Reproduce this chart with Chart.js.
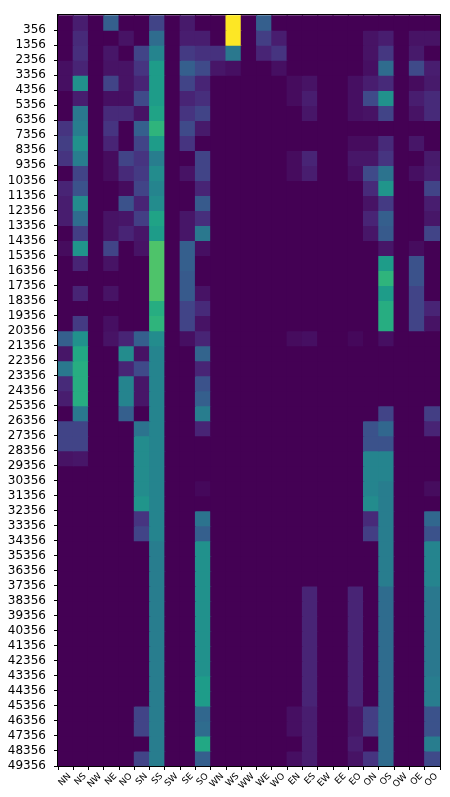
<!DOCTYPE html>
<html>
<head>
<meta charset="utf-8">
<script src="https://cdn.jsdelivr.net/npm/chart.js@4.4.1/dist/chart.umd.min.js"></script>
<style>
html,body{margin:0;padding:0;background:#fff;}
#wrap{width:450px;height:797px;position:relative;}
</style>
</head>
<body>
<div id="wrap"><canvas id="c" width="450" height="797"></canvas></div>
<script>
// ---- data ----
const colLabels = ['NN','NS','NW','NE','NO','SN','SS','SW','SE','SO','WN','WS','WW','WE','WO','EN','ES','EW','EE','EO','ON','OS','OW','OE','OO'];
const rowLabels = [];
for (let v = 356; v <= 49356; v += 1000) rowLabels.push(String(v));

// one row per y label (top to bottom), one value per column
const cellValues = [
  [0,.08,0,.30,0,0,.20,0,.07,0, 0,1,0,.30,0, 0,0,0,0,0, 0,0,0,0,0],
  [0,.12,0,0,.05,0,.35,0,.08,.08, 0,1,0,.18,.08, 0,0,0,0,0, .05,.08,0,.05,.05],
  [0,.13,0,.06,0,.20,.45,0,.17,.14, .14,.40,0,.10,.15, 0,0,0,0,0, .05,.16,0,.07,0],
  [.04,.10,0,.05,.05,.15,.55,0,.30,.22, .06,.04,0,0,.04, 0,0,0,0,0, .04,.35,0,.22,.08],
  [.04,.50,0,.20,.05,.10,.55,0,.20,.10, 0,0,0,0,0, .03,.05,0,0,.04, .08,.12,0,.03,.07],
  [0,.08,0,.04,.04,.22,.55,0,.10,.13, 0,0,0,0,0, .03,.08,0,0,.04, .22,.50,0,.08,.12],
  [0,.40,0,.12,.12,.05,.58,0,.15,.20, 0,0,0,0,0, 0,.06,0,0,.04, .05,.20,0,.05,.12],
  [.15,.42,0,.15,0,.30,.65,0,.22,.07, 0,0,0,0,0, 0,0,0,0,0, 0,0,0,0,0],
  [.18,.50,0,.10,0,.20,.55,0,.15,0, 0,0,0,0,0, 0,0,0,0,.03, .03,.12,0,.06,0],
  [.15,.42,0,.03,.20,.15,.42,0,0,.20, 0,0,0,0,0, .03,.10,0,0,.06, .06,.15,0,0,.07],
  [0,.20,0,.03,.12,.17,.48,0,.05,.20, 0,0,0,0,0, .03,.08,0,0,.04, .22,.38,0,.04,.08],
  [.10,.25,0,0,.03,.20,.45,0,0,.10, 0,0,0,0,0, 0,0,0,0,0, .12,.52,0,0,.20],
  [.08,.48,0,0,.25,.10,.48,0,0,.28, 0,0,0,0,0, 0,0,0,0,0, .05,.17,0,0,.08],
  [.08,.35,0,.05,.06,.18,.58,0,.06,.13, 0,0,0,0,0, 0,0,0,0,0, .10,.30,0,0,.06],
  [0,.18,0,.05,.10,.06,.55,0,.06,.40, 0,0,0,0,0, 0,0,0,0,0, .06,.28,0,0,.20],
  [.03,.52,0,.20,0,.05,.72,0,.30,.04, 0,0,0,0,0, 0,0,0,0,0, 0,.06,0,.03,0],
  [0,.10,0,.05,0,0,.72,0,.30,0, 0,0,0,0,0, 0,0,0,0,0, 0,.55,0,.25,0],
  [0,0,0,0,0,0,.72,0,.28,0, 0,0,0,0,0, 0,0,0,0,0, 0,.65,0,.25,0],
  [0,.10,0,.05,0,0,.72,0,.28,.05, 0,0,0,0,0, 0,0,0,0,0, 0,.55,0,.20,0],
  [0,0,0,0,0,0,.62,0,.20,.12, 0,0,0,0,0, 0,0,0,0,0, 0,.62,0,.20,.10],
  [0,.17,0,.04,0,0,.65,0,.20,.05, 0,0,0,0,0, 0,0,0,0,0, 0,.62,0,.20,.05],
  [.30,.50,0,.05,.10,.30,.48,0,.04,.10, 0,0,0,0,0, .03,.04,0,0,.02, 0,.04,0,0,0],
  [.06,.60,0,0,.48,.05,.45,0,0,.32, 0,0,0,0,0, 0,0,0,0,0, 0,0,0,0,0],
  [.40,.62,0,0,.10,.22,.45,0,0,.10, 0,0,0,0,0, 0,0,0,0,0, 0,0,0,0,0],
  [.12,.62,0,0,.45,.06,.45,0,0,.25, 0,0,0,0,0, 0,0,0,0,0, 0,0,0,0,0],
  [.08,.62,0,0,.45,.06,.45,0,0,.30, 0,0,0,0,0, 0,0,0,0,0, 0,0,0,0,0],
  [0,.40,0,0,.30,0,.45,0,0,.42, 0,0,0,0,0, 0,0,0,0,0, 0,.20,0,0,.18],
  [.20,.20,0,0,0,.38,.45,0,0,.10, 0,0,0,0,0, 0,0,0,0,0, .25,.33,0,0,.10],
  [.20,.20,0,0,0,.48,.45,0,0,0, 0,0,0,0,0, 0,0,0,0,0, .25,.25,0,0,0],
  [.05,.06,0,0,0,.48,.45,0,0,0, 0,0,0,0,0, 0,0,0,0,0, .45,.45,0,0,0],
  [0,0,0,0,0,.48,.45,0,0,0, 0,0,0,0,0, 0,0,0,0,0, .45,.45,0,0,0],
  [0,0,0,0,0,.48,.45,0,0,.02, 0,0,0,0,0, 0,0,0,0,0, .45,.42,0,0,.03],
  [0,0,0,0,0,.52,.45,0,0,0, 0,0,0,0,0, 0,0,0,0,0, .48,.42,0,0,0],
  [0,0,0,0,0,.15,.45,0,0,.38, 0,0,0,0,0, 0,0,0,0,0, .12,.42,0,0,.33],
  [0,0,0,0,0,.20,.45,0,0,.30, 0,0,0,0,0, 0,0,0,0,0, .18,.42,0,0,.25],
  [0,0,0,0,0,0,.42,0,0,.50, 0,0,0,0,0, 0,0,0,0,0, 0,.42,0,0,.45],
  [0,0,0,0,0,0,.42,0,0,.50, 0,0,0,0,0, 0,0,0,0,0, 0,.42,0,0,.45],
  [0,0,0,0,0,0,.42,0,0,.50, 0,0,0,0,0, 0,0,0,0,0, 0,.42,0,0,.45],
  [0,0,0,0,0,0,.42,0,0,.50, 0,0,0,0,0, 0,.10,0,0,.10, 0,.35,0,0,.40],
  [0,0,0,0,0,0,.42,0,0,.50, 0,0,0,0,0, 0,.10,0,0,.10, 0,.35,0,0,.40],
  [0,0,0,0,0,0,.42,0,0,.50, 0,0,0,0,0, 0,.10,0,0,.10, 0,.35,0,0,.40],
  [0,0,0,0,0,0,.42,0,0,.50, 0,0,0,0,0, 0,.10,0,0,.10, 0,.35,0,0,.40],
  [0,0,0,0,0,0,.42,0,0,.50, 0,0,0,0,0, 0,.10,0,0,.10, 0,.35,0,0,.40],
  [0,0,0,0,0,0,.42,0,0,.50, 0,0,0,0,0, 0,.10,0,0,.10, 0,.35,0,0,.40],
  [0,0,0,0,0,0,.42,0,0,.55, 0,0,0,0,0, 0,.10,0,0,.10, 0,.35,0,0,.42],
  [0,0,0,0,0,0,.42,0,0,.55, 0,0,0,0,0, 0,.10,0,0,.10, 0,.35,0,0,.42],
  [0,0,0,0,0,.20,.42,0,0,.33, 0,0,0,0,0, .04,.08,0,0,.06, .18,.35,0,0,.25],
  [0,0,0,0,0,.20,.42,0,0,.35, 0,0,0,0,0, .04,.08,0,0,.06, .18,.35,0,0,.25],
  [0,0,0,0,0,0,.42,0,0,.60, 0,0,0,0,0, 0,.08,0,0,.08, 0,.35,0,0,.42],
  [0,0,0,0,0,.20,.42,0,0,.30, 0,0,0,0,0, .04,.08,0,0,.05, .15,.35,0,0,.22]
];

// ---- viridis colour map ----
const viridisStops = ['#440154','#471365','#482475','#463480','#414487','#3b528b','#355f8d','#2f6c8e','#2a788e','#25848e','#21918c','#1e9c89','#22a884','#2fb47c','#44bf70','#5ec962','#7ad151','#9bd93c','#bddf26','#dfe318','#fde725'];
function hexToRgb(h){return [parseInt(h.slice(1,3),16),parseInt(h.slice(3,5),16),parseInt(h.slice(5,7),16)];}
const viridisRgb = viridisStops.map(hexToRgb);
function viridis(t){
  t = Math.max(0, Math.min(1, t));
  const p = t * (viridisRgb.length - 1);
  const i = Math.min(Math.floor(p), viridisRgb.length - 2);
  const f = p - i;
  const a = viridisRgb[i], b = viridisRgb[i+1];
  return 'rgb(' + a.map((v,k)=>Math.round(v + (b[k]-v)*f)).join(',') + ')';
}

const datasets = rowLabels.map((lbl, r) => ({
  label: lbl,
  data: colLabels.map(() => [r, r + 1]),
  backgroundColor: cellValues[r].map(viridis),
  borderWidth: 0,
  barPercentage: 1,
  categoryPercentage: 1,
  grouped: false,
  inflateAmount: 0.6
}));

const framePlugin = {
  id: 'frame',
  afterDraw(chart){
    const a = chart.chartArea, ctx = chart.ctx;
    ctx.save();
    ctx.strokeStyle = '#000';
    ctx.lineWidth = 1;
    ctx.strokeRect(Math.round(a.left) - 0.5, Math.round(a.top) - 0.5, Math.round(a.right - a.left) + 1, Math.round(a.bottom - a.top) + 1);
    ctx.restore();
  }
};

new Chart(document.getElementById('c'), {
  type: 'bar',
  data: { labels: colLabels, datasets },
  options: {
    responsive: false,
    animation: false,
    devicePixelRatio: 1,
    layout: { padding: { left: 0, right: 10, top: 8, bottom: 0 } },
    plugins: { legend: { display: false }, tooltip: { enabled: false } },
    scales: {
      x: {
        type: 'category',
        offset: true,
        grid: { drawOnChartArea: false, drawTicks: true, tickLength: 4, color: '#000' },
        border: { display: true, color: '#000' },
        ticks: {
          color: '#000',
          font: { family: 'DejaVu Sans', size: 9 },
          minRotation: 45, maxRotation: 45,
          autoSkip: false,
          padding: 1,
          labelOffset: 4
        },
        afterFit(scale){ scale.height = 31; }
      },
      y: {
        type: 'linear',
        min: 0, max: rowLabels.length,
        reverse: true,
        grid: { drawOnChartArea: false, drawTicks: true, tickLength: 4, color: '#000' },
        border: { display: true, color: '#000' },
        afterBuildTicks(scale){ scale.ticks = rowLabels.map((_, i) => ({ value: i + 1 })); },
        ticks: {
          color: '#000',
          font: { family: 'DejaVu Sans', size: 12 },
          autoSkip: false,
          padding: 8,
          callback(v){ return rowLabels[v - 1] || ''; }
        },
        afterFit(scale){ scale.width = 58; }
      }
    }
  },
  plugins: [framePlugin]
});
</script>
</body>
</html>
